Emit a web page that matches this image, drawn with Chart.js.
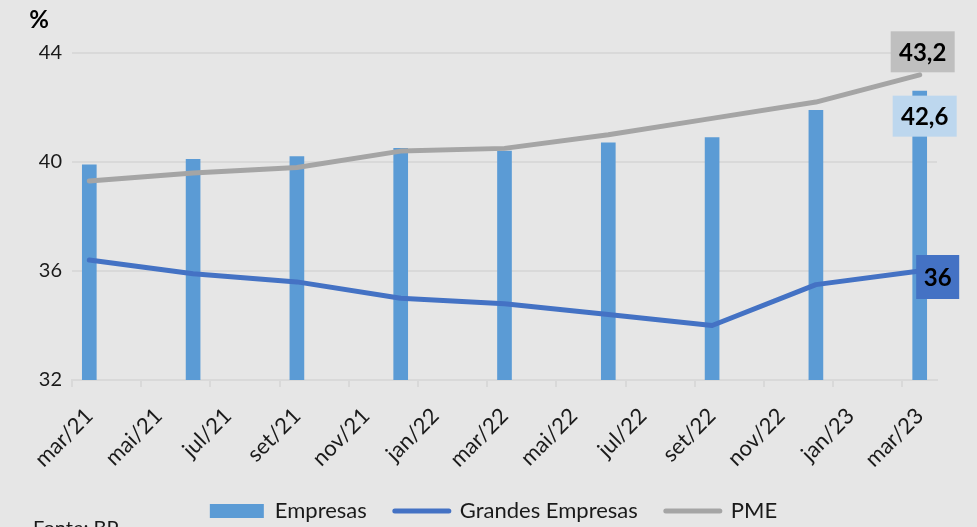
<!DOCTYPE html>
<html>
<head>
<meta charset="utf-8">
<script src="https://cdn.jsdelivr.net/npm/chart.js@4"></script>
<style>
  html, body { margin: 0; padding: 0; background: #e6e6e6; overflow: hidden; }
  #wrap { position: relative; width: 977px; height: 560px; }
  #fonte { position: absolute; left: 33px; top: 515px; font: 20px Lato, sans-serif; color: #1a1a1a; }
</style>
</head>
<body>
<div id="wrap">
  <canvas id="chart" width="977" height="560"></canvas>
  <div id="fonte">Fonte: BP</div>
</div>
<script>
// monthly axis, labels shown every second month
var months = ['mar/21','abr/21','mai/21','jun/21','jul/21','ago/21','set/21','out/21','nov/21','dez/21',
  'jan/22','fev/22','mar/22','abr/22','mai/22','jun/22','jul/22','ago/22','set/22','out/22','nov/22','dez/22',
  'jan/23','fev/23','mar/23'];
// the series are quarterly
var quarters = ['mar/21','jun/21','set/21','dez/21','mar/22','jun/22','set/22','dez/22','mar/23'];
var empresas = [39.9, 40.1, 40.2, 40.5, 40.4, 40.7, 40.9, 41.9, 42.6];
var grandes = [36.4, 35.9, 35.6, 35.0, 34.8, 34.4, 34.0, 35.5, 36.0];
var pme = [39.3, 39.6, 39.8, 40.4, 40.5, 41.0, 41.6, 42.2, 43.2];
var yMin = 32, yMax = 44, yStep = 4;

var textColor = '#1a1a1a';
var gridColor = '#d9d9d9';

function onMonths(values) {
  var out = months.map(function() { return null; });
  quarters.forEach(function(q, i) { out[months.indexOf(q)] = values[i]; });
  return out;
}

function fmt(v) {
  return String(v).replace('.', ',');
}

// boxes on the last value of each series
var endLabels = [
  { ds: 2, dx: 3, dy: -23, w: 64, h: 41, fill: '#bfbfbf' },
  { ds: 0, dx: 5, dy: 25, w: 64, h: 41, fill: '#bdd7ee' },
  { ds: 1, dx: 18, dy: 6, w: 43, h: 44, fill: '#4472c4' }
];

var extras = {
  id: 'extras',
  afterLayout: function(chart) {
    // legend sits a little right of centre in the original
    chart.legend.left += 25;
    chart.legend.right += 25;
  },
  afterDatasetsDraw: function(chart) {
    var ctx = chart.ctx;
    ctx.save();
    endLabels.forEach(function(l) {
      var meta = chart.getDatasetMeta(l.ds);
      var data = chart.data.datasets[l.ds].data;
      var idx = data.length - 1;
      var el = meta.data[idx];
      var cx = el.x + l.dx, cy = el.y + l.dy;
      ctx.fillStyle = l.fill;
      ctx.fillRect(cx - l.w / 2, cy - l.h / 2, l.w, l.h);
      ctx.fillStyle = '#000';
      ctx.font = 'bold 24px Lato';
      ctx.textAlign = 'center';
      ctx.textBaseline = 'middle';
      ctx.fillText(fmt(data[idx]), cx, cy + 1);
    });
    ctx.fillStyle = '#000';
    ctx.font = 'bold 24px Lato';
    ctx.textAlign = 'right';
    ctx.textBaseline = 'alphabetic';
    ctx.fillText('%', chart.chartArea.left - 23, 28);
    ctx.restore();
  }
};

var ctx = document.getElementById('chart');

var chart = new Chart(ctx, {
  type: 'bar',
  data: {
    labels: months,
    datasets: [
      {
        type: 'bar',
        label: 'Empresas',
        data: onMonths(empresas),
        backgroundColor: '#5b9bd5',
        borderColor: '#5b9bd5',
        barThickness: 14,
        order: 2
      },
      {
        type: 'line',
        label: 'Grandes Empresas',
        data: onMonths(grandes),
        borderColor: '#4472c4',
        backgroundColor: '#4472c4',
        borderWidth: 5,
        pointRadius: 0,
        spanGaps: true,
        tension: 0,
        borderCapStyle: 'round',
        borderJoinStyle: 'round',
        order: 0
      },
      {
        type: 'line',
        label: 'PME',
        data: onMonths(pme),
        borderColor: '#a5a5a5',
        backgroundColor: '#a5a5a5',
        borderWidth: 5,
        pointRadius: 0,
        spanGaps: true,
        tension: 0,
        borderCapStyle: 'round',
        borderJoinStyle: 'round',
        order: 1
      }
    ]
  },
  options: {
    responsive: false,
    animation: false,
    layout: { padding: { top: 53, right: 40, bottom: 28, left: 0 } },
    scales: {
      x: {
        offset: true,
        grid: {
          offset: true,
          drawOnChartArea: false,
          drawTicks: true,
          tickLength: 7,
          lineWidth: 2,
          color: function(c) {
            return (c.index !== undefined && c.index % 2 === 0) ? gridColor : 'rgba(0,0,0,0)';
          }
        },
        border: { display: true, color: gridColor, width: 2 },
        ticks: {
          autoSkip: false,
          maxRotation: 45,
          minRotation: 45,
          padding: 16,
          color: textColor,
          font: { family: 'Lato', size: 22 },
          callback: function(v, i) { return i % 2 === 0 ? months[i] : ''; }
        },
        afterFit: function(scale) { scale.height = 92; }
      },
      y: {
        min: yMin,
        max: yMax,
        ticks: {
          stepSize: yStep,
          padding: 10,
          color: textColor,
          font: { family: 'Lato', size: 20 }
        },
        grid: { color: gridColor, lineWidth: 2, drawTicks: false },
        border: { display: false },
        afterFit: function(scale) { scale.width = 72; }
      }
    },
    plugins: {
      tooltip: { enabled: false },
      legend: {
        position: 'bottom',
        labels: {
          usePointStyle: true,
          pointStyleWidth: 54,
          boxHeight: 14,
          padding: 28,
          color: textColor,
          font: { family: 'Lato', size: 22 },
          generateLabels: function(chart) {
            return chart.data.datasets.map(function(ds, i) {
              var isBar = ds.type === 'bar';
              return {
                text: ds.label,
                fillStyle: ds.backgroundColor,
                strokeStyle: ds.borderColor,
                lineWidth: isBar ? 0 : 5,
                lineCap: 'round',
                pointStyle: isBar ? 'rect' : 'line',
                datasetIndex: i,
                hidden: false,
                fontColor: textColor
              };
            });
          }
        }
      }
    }
  },
  plugins: [extras]
});
</script>
</body>
</html>
